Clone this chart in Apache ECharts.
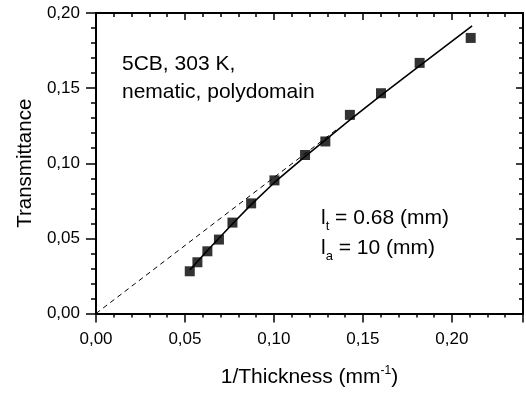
<!DOCTYPE html>
<html>
<head>
<meta charset="utf-8">
<script src="https://cdn.jsdelivr.net/npm/echarts@6/dist/echarts.min.js"></script>
<style>
  html, body { margin: 0; padding: 0; background: #fff; }
  #chart { width: 526px; height: 396px; }
</style>
</head>
<body>
<div id="chart"></div>
<script>
// measured points: 1/thickness (mm^-1) vs transmittance
const invThickness = [0.0527, 0.0570, 0.0626, 0.0691, 0.0767, 0.0872, 0.1003, 0.1175, 0.1289, 0.1427, 0.1602, 0.1819, 0.2106];
const transmittance = [0.0281, 0.0341, 0.0414, 0.0492, 0.0605, 0.0733, 0.0886, 0.1055, 0.1145, 0.1322, 0.1466, 0.1668, 0.1834];

// fitted curve (solid)
const fitX = [0.0527, 0.0629, 0.0769, 0.0872, 0.1003, 0.1171, 0.1292, 0.1429, 0.1600, 0.1800, 0.2114];
const fitY = [0.0290, 0.0423, 0.0599, 0.0725, 0.0872, 0.1041, 0.1158, 0.1290, 0.1450, 0.1632, 0.1915];

// straight asymptote through the origin (dashed)
const lineX = [0, 0.135];
const lineY = [0, 0.1222];

const FONT = 'Liberation Sans, Arial, Helvetica, sans-serif';
const comma = (v) => v.toFixed(2).replace('.', ',');

const chart = echarts.init(document.getElementById('chart'));

function xAxisDef(position, inside) {
  const ax = {
    type: 'value', position, min: 0, max: 0.24, interval: 0.05,
    splitLine: { show: false },
    axisLine: { show: true, onZero: false, lineStyle: { color: '#000', width: 2 } },
    axisTick: { show: true, inside, length: inside ? 7 : 9, lineStyle: { color: '#000', width: 1.5 } },
    minorTick: { show: true, splitNumber: 5, length: 4, lineStyle: { color: '#000', width: 1.5 } },
    axisLabel: {
      show: position === 'bottom', showMaxLabel: false,
      formatter: comma, color: '#000', fontSize: 17, fontFamily: FONT, margin: 17
    }
  };
  if (position === 'bottom') {
    ax.name = '1/Thickness (mm{sup|-1})';
    ax.nameLocation = 'middle';
    ax.nameGap = 51;
    ax.nameTextStyle = {
      color: '#000', fontSize: 21, fontFamily: FONT, lineHeight: 26,
      rich: { sup: { color: '#000', fontSize: 12, fontFamily: FONT, verticalAlign: 'top', lineHeight: 26 } }
    };
  }
  return ax;
}

function yAxisDef(position, inside) {
  const ax = {
    type: 'value', position, min: 0, max: 0.20, interval: 0.05,
    splitLine: { show: false },
    axisLine: { show: true, onZero: false, lineStyle: { color: '#000', width: 2 } },
    axisTick: { show: true, inside, length: inside ? 7 : 10, lineStyle: { color: '#000', width: 1.5 } },
    minorTick: { show: true, splitNumber: 5, length: inside ? 4 : 5, lineStyle: { color: '#000', width: 1.5 } },
    axisLabel: {
      show: position === 'left',
      formatter: comma, color: '#000', fontSize: 17, fontFamily: FONT, margin: 16
    }
  };
  if (position === 'left') {
    ax.name = 'Transmittance';
    ax.nameLocation = 'middle';
    ax.nameGap = 60;
    ax.nameTextStyle = { color: '#000', fontSize: 20.5, fontFamily: FONT };
  }
  return ax;
}

chart.setOption({
  animation: false,
  backgroundColor: '#fff',
  title: [
    {
      text: '5CB, 303 K,\nnematic, polydomain',
      left: 122, top: 50.5, padding: 0,
      textStyle: { color: '#000', fontSize: 21, fontWeight: 'normal', fontFamily: FONT, lineHeight: 28 }
    },
    {
      text: '{m|l}{s|t}{m| = 0.68 (mm)}\n{m|l}{s|a}{m| = 10 (mm)}',
      left: 321, top: 203, padding: 0,
      textStyle: {
        color: '#000', fontSize: 21, fontWeight: 'normal', fontFamily: FONT,
        rich: {
          m: { color: '#000', fontSize: 21, fontFamily: FONT, lineHeight: 30, verticalAlign: 'middle' },
          s: { color: '#000', fontSize: 13, fontFamily: FONT, lineHeight: 13, verticalAlign: 'bottom' }
        }
      }
    }
  ],
  grid: { left: 96, right: 3, top: 13, bottom: 82.5 },
  xAxis: [xAxisDef('bottom', false), xAxisDef('top', true)],
  yAxis: [yAxisDef('left', false), yAxisDef('right', true)],
  series: [
    {
      type: 'line',
      data: lineX.map((x, i) => [x, lineY[i]]),
      showSymbol: false,
      lineStyle: { color: '#000', width: 1, type: [5, 4] },
      z: 2
    },
    {
      type: 'line',
      data: fitX.map((x, i) => [x, fitY[i]]),
      showSymbol: false,
      lineStyle: { color: '#000', width: 1.6 },
      z: 3
    },
    {
      type: 'scatter',
      data: invThickness.map((x, i) => [x, transmittance[i]]),
      symbol: 'rect',
      symbolSize: 10,
      itemStyle: { color: '#000' },
      z: 4
    }
  ]
});
</script>
</body>
</html>
